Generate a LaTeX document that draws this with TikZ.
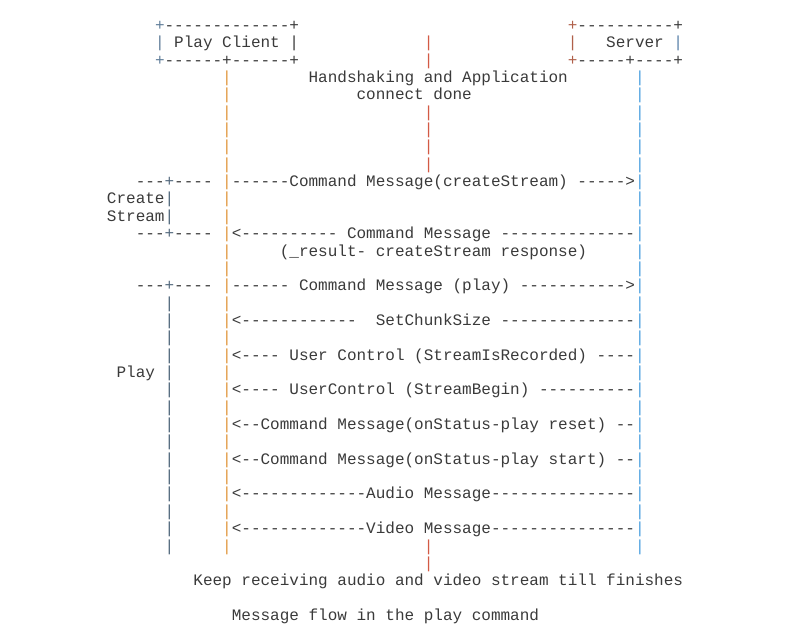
\documentclass[tikz,border=0pt]{standalone}
\usepackage{fontspec}
\setmonofont{Liberation Mono}
\definecolor{txt}{HTML}{3A3A3A}
\definecolor{lorange}{HTML}{E0963C}
\definecolor{lred}{HTML}{D35A45}
\definecolor{lblue}{HTML}{4A9FDF}
\definecolor{boxl}{HTML}{5E7C98}
\definecolor{brk}{HTML}{52687C}
\definecolor{srvl}{HTML}{B0604A}
\definecolor{srvr}{HTML}{5A82AA}
\begin{document}
\begin{tikzpicture}[x=9.6pt,y=-17.35pt,
  t/.style={anchor=base west,inner sep=0pt,outer sep=0pt,
    font=\ttfamily\fontsize{16}{17.35}\selectfont\frenchspacing,text=txt},
  clientline/.style={t,text=lorange},
  serverline/.style={t,text=lblue},
  midline/.style={t,text=lred},
  bracket/.style={t,text=brk},
  cboxl/.style={t,text=boxl},
  sboxl/.style={t,text=srvl},
  sboxr/.style={t,text=srvr}]
\useasboundingbox (-7.1458,-1.7579) rectangle (75.3542,34.438);

% Play Client box
\node[cboxl] (cTL) at (9,0) {+};
\node[t] (cTop) at (10,0) {-------------+};
\node[cboxl] (cML) at (9,1) {|};
\node[t] (cName) at (11,1) {Play Client};
\node[t] (cMR) at (23,1) {|};
\node[cboxl] (cBL) at (9,2) {+};
\node[t] (cBot) at (10,2) {------+------+};

% Server box
\node[sboxl] (sTL) at (52,0) {+};
\node[t] (sTop) at (53,0) {----------+};
\node[sboxl] (sML) at (52,1) {|};
\node[t] (sName) at (56,1) {Server};
\node[sboxr] (sMR) at (63,1) {|};
\node[sboxl] (sBL) at (52,2) {+};
\node[t] (sBot) at (53,2) {-----+----+};

% lifelines
\foreach \r in {3,...,30} {
  \node[clientline] (cl\r) at (16,\r) {|};
  \node[serverline] (sl\r) at (59,\r) {|};
}
\foreach \r in {1,2,5,6,7,8,30,31} {
  \node[midline] (ml\r) at (37,\r) {|};
}
\foreach \r in {10,11,16,17,...,30} {
  \node[bracket] (pb\r) at (10,\r) {|};
}

% handshake text
\node[t] (hs1) at (25,3) {Handshaking and Application};
\node[t] (hs2) at (30,4) {connect done};

% Create Stream bracket
\foreach \r/\n in {9/a,12/b,15/c} {
  \node[t] (tk\n1) at (7,\r) {---};
  \node[bracket] (tk\n2) at (10,\r) {+};
  \node[t] (tk\n3) at (11,\r) {----};
}
\node[t] (create) at (4,10) {Create};
\node[t] (stream) at (4,11) {Stream};
\node[t] (play) at (5,20) {Play};

% messages
\node[t] (m1) at (17,9) {------Command Message(createStream) ----->};
\node[t] (m2) at (17,12) {<---------- Command Message --------------};
\node[t] (m2b) at (22,13) {(\_result- createStream response)};
\node[t] (m3) at (17,15) {------ Command Message (play) ----------->};
\node[t] (m4a) at (17,17) {<------------};
\node[t] (m4b) at (32,17) {SetChunkSize};
\node[t] (m4c) at (45,17) {--------------};
\node[t] (m5) at (17,19) {<---- User Control (StreamIsRecorded) ----};
\node[t] (m6) at (17,21) {<---- UserControl (StreamBegin) ----------};
\node[t] (m7) at (17,23) {<--Command Message(onStatus-play reset) --};
\node[t] (m8) at (17,25) {<--Command Message(onStatus-play start) --};
\node[t] (m9) at (17,27) {<-------------Audio Message---------------};
\node[t] (m10) at (17,29) {<-------------Video Message---------------};

% footer
\node[t] (keep) at (13,32) {Keep receiving audio and video stream till finishes};
\node[t] (caption) at (17,34) {Message flow in the play command};
\end{tikzpicture}
\end{document}
